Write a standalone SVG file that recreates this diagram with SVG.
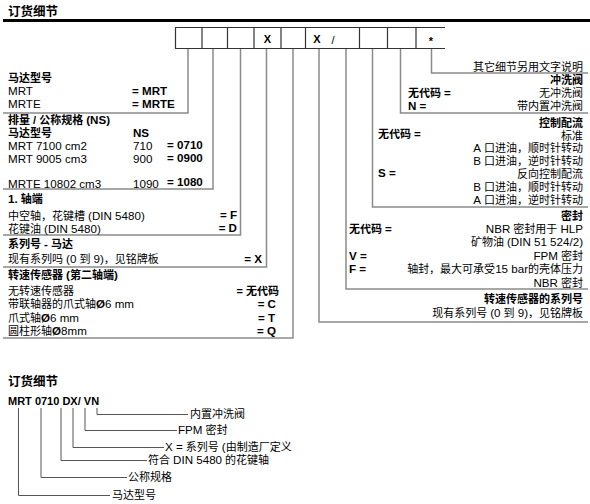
<svg xmlns="http://www.w3.org/2000/svg" width="590" height="504" viewBox="0 0 590 504">
<style>
text{font-family:'Liberation Sans','Noto Sans CJK SC',sans-serif;font-size:11px;fill:#000}
.L,tspan.L{font-size:11.6px}
.b{font-weight:bold}
.h{font-weight:bold;font-size:12.5px}
.e{text-anchor:end}
.m{text-anchor:middle}
.c{fill:none;stroke:#8a8a8a;stroke-width:1.5}
.k{fill:none;stroke:#555;stroke-width:1}
.bx{stroke:#333;stroke-width:1.2;fill:none}
</style>
<rect width="590" height="504" fill="#fff"/>
<g id="header">
<text x="8" y="16" class="h">订货细节</text>
<line x1="3" y1="20.5" x2="590" y2="20.5" stroke="#000" stroke-width="3"/>
</g>
<g id="code-boxes">
<line x1="175" y1="27.5" x2="445" y2="27.5" class="bx"/>
<line x1="175" y1="48.5" x2="445" y2="48.5" class="bx"/>
<path class="bx" d="M175.5 27.5V48.5M202 27.5V48.5M227.5 27.5V48.5M254 27.5V48.5M281 27.5V48.5M305.5 27.5V48.5M359.5 27.5V48.5M387.5 27.5V48.5M416 27.5V48.5"/>
<text x="267.5" y="43" class="b m" font-size="12">X</text>
<text x="317" y="43" class="b m" font-size="12">X</text>
<text x="333" y="44" class="m" font-size="17">/</text>
<text x="431" y="45" class="b m" font-size="12">*</text>
</g>
<g id="connectors">
<polyline class="c" points="188,49 188,113 3,113"/>
<polyline class="c" points="213,49 213,189 3,189"/>
<polyline class="c" points="240.5,49 240.5,235 3,235"/>
<polyline class="c" points="266.5,49 266.5,267 3,267"/>
<polyline class="c" points="293,49 293,338 3,338"/>
<polyline class="c" points="319,49 319,322 588,322"/>
<polyline class="c" points="346,49 346,289 588,289"/>
<polyline class="c" points="372.5,49 372.5,207 588,207"/>
<polyline class="c" points="400.5,49 400.5,113 588,113"/>
<polyline class="c" points="431.5,49 431.5,73 588,73"/>
</g>
<g id="motor-type">
<text x="8" y="82" class="b">马达型号</text>
<text x="8" y="95" class="L">MRT</text>
<text x="132" y="95" class="b L">= MRT</text>
<text x="8" y="108" class="L">MRTE</text>
<text x="132" y="107.5" class="b L">= MRTE</text>
</g>
<g id="displacement">
<text x="8" y="124" class="b">排量 / 公称规格 <tspan class="L">(NS)</tspan></text>
<text x="8" y="137" class="b">马达型号</text>
<text x="133" y="137" class="b L">NS</text>
<text x="8" y="149.5" class="L">MRT 7100 cm2</text>
<text x="133" y="149.5" class="L">710</text>
<text x="167" y="149" class="b L">= 0710</text>
<text x="8" y="162.5" class="L">MRT 9005 cm3</text>
<text x="133" y="162.5" class="L">900</text>
<text x="167" y="162" class="b L">= 0900</text>
<text x="8" y="188" class="L">MRTE 10802 cm3</text>
<text x="133" y="188" class="L">1090</text>
<text x="167" y="186" class="b L">= 1080</text>
</g>
<g id="shaft-end">
<text x="8" y="203" class="b"><tspan class="L">1.</tspan> 轴端</text>
<text x="8" y="219.5">中空轴，花键槽 <tspan class="L">(DIN 5480)</tspan></text>
<text x="237" y="219" class="b e L">= F</text>
<text x="8" y="232.5">花键油 <tspan class="L">(DIN 5480)</tspan></text>
<text x="237" y="232" class="b e L">= D</text>
</g>
<g id="series-motor">
<text x="8" y="248" class="b">系列号 <tspan class="L">-</tspan> 马达</text>
<text x="8" y="263">现有系列吗 <tspan class="L">(0</tspan> 到 <tspan class="L">9)</tspan>，见铭牌板</text>
<text x="262" y="263" class="b e L">= X</text>
</g>
<g id="speed-sensor">
<text x="8" y="279" class="b">转速传感器 <tspan class="L">(</tspan>第二轴端<tspan class="L">)</tspan></text>
<text x="8" y="294.5">无转速传感器</text>
<text x="279" y="294.5" class="b e">= 无代码</text>
<text x="8" y="308">带联轴器的爪式轴<tspan class="L"><tspan font-weight="bold">Ø</tspan>6 mm</tspan></text>
<text x="276" y="308" class="b e L">= C</text>
<text x="8" y="321.5">爪式轴<tspan class="L"><tspan font-weight="bold">Ø</tspan>6 mm</tspan></text>
<text x="275" y="321.5" class="b e L">= T</text>
<text x="8" y="334.5">圆柱形轴<tspan class="L"><tspan font-weight="bold">Ø</tspan>8mm</tspan></text>
<text x="276" y="335" class="b e L">= Q</text>
</g>
<g id="other-details">
<text x="583" y="71" class="e">其它细节另用文字说明</text>
</g>
<g id="flushing-valve">
<text x="583" y="84" class="b e">冲洗阀</text>
<text x="408" y="97" class="b">无代码 <tspan class="L">=</tspan></text>
<text x="583" y="97" class="e">无冲洗阀</text>
<text x="408" y="109.5" class="b L">N =</text>
<text x="583" y="110" class="e">带内置冲洗阀</text>
</g>
<g id="control-timing">
<text x="583" y="127" class="b e">控制配流</text>
<text x="378" y="138" class="b">无代码 <tspan class="L">=</tspan></text>
<text x="583" y="139.5" class="e">标准</text>
<text x="583" y="152" class="e"><tspan class="L">A</tspan> 口进油，顺时针转动</text>
<text x="583" y="164.5" class="e"><tspan class="L">B</tspan> 口进油，逆时针转动</text>
<text x="378" y="177" class="b L">S =</text>
<text x="583" y="177.5" class="e">反向控制配流</text>
<text x="583" y="190.5" class="e"><tspan class="L">B</tspan> 口进油，顺时针转动</text>
<text x="583" y="203.5" class="e"><tspan class="L">A</tspan> 口进油，逆时针转动</text>
</g>
<g id="seals">
<text x="583" y="220" class="b e">密封</text>
<text x="349" y="232.5" class="b">无代码 <tspan class="L">=</tspan></text>
<text x="583" y="232.5" class="e"><tspan class="L">NBR</tspan> 密封用于 <tspan class="L">HLP</tspan></text>
<text x="583" y="246" class="e">矿物油 <tspan class="L">(DIN 51 524/2)</tspan></text>
<text x="349" y="259.5" class="b L">V =</text>
<text x="583" y="259.5" class="e"><tspan class="L">FPM</tspan> 密封</text>
<text x="349" y="273" class="b L">F =</text>
<text x="583" y="273" class="e">轴封，最大可承受<tspan class="L">15 bar</tspan>的壳体压力</text>
<text x="583" y="286.5" class="e"><tspan class="L">NBR</tspan> 密封</text>
</g>
<g id="sensor-series">
<text x="583" y="303" class="b e">转速传感器的系列号</text>
<text x="583" y="317" class="e">现有系列号 <tspan class="L">(0</tspan> 到 <tspan class="L">9)</tspan>，见铭牌板</text>
</g>
<g id="example">
<text x="8" y="386" class="h">订货细节</text>
<text x="8" y="405" class="b" font-size="11.5">MRT 0710 DX/ VN</text>
</g>
<g id="example-connectors">
<polyline class="k" points="97,408 97,414.5 188,414.5"/>
<polyline class="k" points="85,408 85,430.5 177,430.5"/>
<polyline class="k" points="73,408 73,447.5 164,447.5"/>
<polyline class="k" points="61,408 61,460.5 147,460.5"/>
<polyline class="k" points="41,408 41,477.5 127,477.5"/>
<polyline class="k" points="18.5,408 18.5,495.5 110,495.5"/>
</g>
<g id="example-labels">
<text x="190" y="418">内置冲洗阀</text>
<text x="178" y="434"><tspan class="L">FPM</tspan> 密封</text>
<text x="165" y="451"><tspan class="L">X =</tspan> 系列号 <tspan class="L">(</tspan>由制造厂定义</text>
<text x="148" y="464">符合 <tspan class="L">DIN 5480</tspan> 的花键轴</text>
<text x="128" y="481">公称规格</text>
<text x="112" y="499">马达型号</text>
</g>
</svg>
